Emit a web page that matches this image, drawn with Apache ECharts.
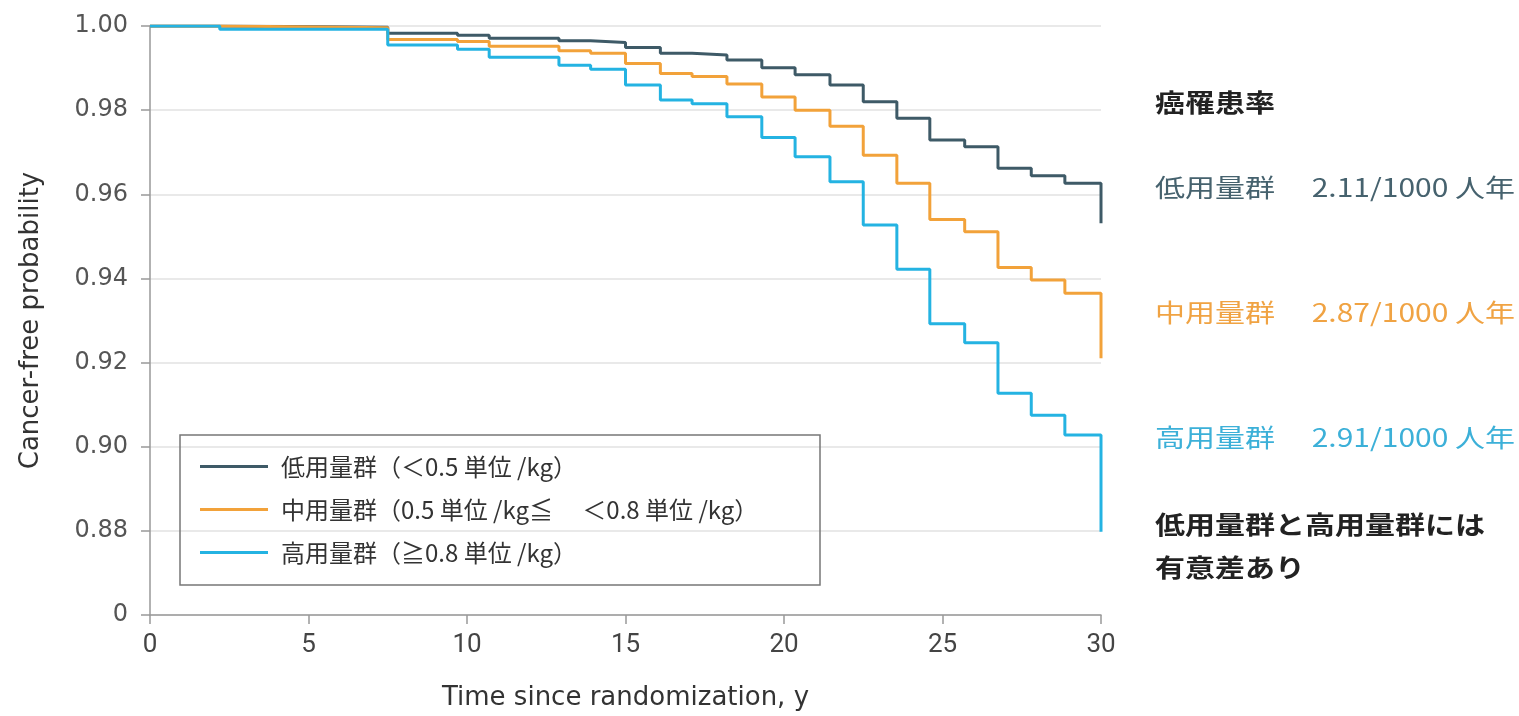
<!DOCTYPE html>
<html>
<head>
    <meta charset="UTF-8">
    <title>Cancer-free probability</title>
    <script src="https://cdn.jsdelivr.net/npm/echarts@6/dist/echarts.min.js"></script>
    <style>
        html, body { margin: 0; padding: 0; background: #fff; }
        #chart { width: 1519px; height: 716px; }
    </style>
</head>
<body>
<div id="chart"></div>
<script type="text/javascript">
    // step times (years) and survival after each step
    var times = [0, 2.2, 7.5, 9.7, 10.7, 12.9, 13.9, 15.0, 16.1, 17.1, 18.2, 19.3, 20.35, 21.45, 22.5, 23.56, 24.6, 25.7, 26.75, 27.8, 28.86, 30];
    var lowDose = [1.0, 0.9997, 0.9983, 0.9978, 0.9971, 0.9965, 0.9961, 0.9949, 0.9935, 0.9931, 0.9919, 0.9901, 0.9884, 0.9860, 0.9820, 0.9781, 0.9729, 0.9713, 0.9662, 0.9644, 0.9626, 0.9531];
    var midDose = [1.0, 0.9996, 0.9968, 0.9963, 0.9952, 0.9941, 0.9935, 0.9911, 0.9887, 0.9880, 0.9862, 0.9831, 0.9800, 0.9762, 0.9693, 0.9626, 0.9540, 0.9511, 0.9426, 0.9396, 0.9365, 0.9210];
    var highDose = [1.0, 0.9992, 0.9955, 0.9945, 0.9926, 0.9907, 0.9897, 0.9860, 0.9824, 0.9815, 0.9784, 0.9735, 0.9689, 0.9630, 0.9527, 0.9422, 0.9292, 0.9247, 0.9127, 0.9075, 0.9028, 0.8798];

    var seriesNames = ['低用量群（＜0.5 単位 /kg）', '中用量群（0.5 単位 /kg≦　 ＜0.8 単位 /kg）', '高用量群（≧0.8 単位 /kg）'];
    var groupNames = ['低用量群', '中用量群', '高用量群'];
    var rates = ['2.11/1000 人年', '2.87/1000 人年', '2.91/1000 人年'];
    var colors = ['#3e5a67', '#f2a23a', '#24b3e2'];
    var textColors = ['#46626e', '#f0a343', '#3cb0d8'];

    var cjk = '"Noto Sans CJK JP", sans-serif';

    function pairs(vals) {
        var out = [];
        for (var i = 0; i < times.length; i++) out.push([times[i], vals[i]]);
        return out;
    }

    var chart = echarts.init(document.getElementById('chart'));
    var allVals = [lowDose, midDose, highDose];
    var series = [];
    for (var k = 0; k < 3; k++) {
        series.push({
            name: seriesNames[k],
            type: 'line',
            step: 'end',
            symbol: 'none',
            data: pairs(allVals[k]),
            lineStyle: { color: colors[k], width: 3 },
            itemStyle: { color: colors[k] }
        });
    }

    // right-hand notes are stretched wide in the original, so scale them a bit
    var graphics = [
        { type: 'rect', shape: { x: 180, y: 435, width: 640, height: 150 },
          style: { fill: 'none', stroke: '#777', lineWidth: 1.5 }, z: 5 },
        { type: 'text', x: 1155, y: 90, scaleX: 1.2, style: { text: '癌罹患率', font: 'bold 25px ' + cjk, fill: '#222' } },
        { type: 'text', x: 1155, y: 512, scaleX: 1.2, style: { text: '低用量群と高用量群には', font: 'bold 25px ' + cjk, fill: '#222' } },
        { type: 'text', x: 1155, y: 555, scaleX: 1.2, style: { text: '有意差あり', font: 'bold 25px ' + cjk, fill: '#222' } }
    ];
    var rateTops = [175, 300, 425];
    for (var j = 0; j < 3; j++) {
        graphics.push({ type: 'text', x: 1155, y: rateTops[j], scaleX: 1.2,
            style: { text: groupNames[j] + '　 ' + rates[j], font: '25px ' + cjk, fill: textColors[j] } });
    }

    option = {
        backgroundColor: '#fff',
        animation: false,
        grid: { left: 150, right: 418, top: 26, bottom: 101 },
        legend: {
            orient: 'vertical',
            left: 200,
            top: 454,
            padding: 0,
            icon: 'rect',
            itemWidth: 68,
            itemHeight: 3,
            itemGap: 18,
            data: seriesNames,
            textStyle: { fontFamily: cjk, fontSize: 24, lineHeight: 25, color: '#333', padding: [0, 0, 0, 8] }
        },
        xAxis: {
            type: 'value',
            min: 0,
            max: 30,
            interval: 5,
            name: 'Time since randomization, y',
            nameLocation: 'middle',
            nameGap: 70,
            nameTextStyle: { fontFamily: '"DejaVu Sans", sans-serif', fontSize: 26, color: '#333' },
            axisLine: { lineStyle: { color: '#999', width: 1.5 } },
            axisTick: { show: true, length: 9, lineStyle: { color: '#999', width: 1.5 } },
            axisLabel: { fontFamily: 'Roboto, sans-serif', fontSize: 26, color: '#444', margin: 17 },
            splitLine: { show: false }
        },
        yAxis: {
            type: 'value',
            min: 0.86,
            max: 1.0,
            interval: 0.02,
            name: 'Cancer-free probability',
            nameLocation: 'middle',
            nameGap: 106,
            nameTextStyle: { fontFamily: '"DejaVu Sans", sans-serif', fontSize: 26, color: '#333' },
            axisLine: { show: true, lineStyle: { color: '#999', width: 1.5 } },
            axisTick: { show: true, length: 9, lineStyle: { color: '#999', width: 1.5 } },
            axisLabel: {
                fontFamily: '"DejaVu Sans", sans-serif', fontSize: 24, color: '#555', margin: 22,
                formatter: function (v) {
                    if (Math.abs(v - 0.86) < 1e-6) return '0';
                    return v.toFixed(2);
                }
            },
            splitLine: { show: true, lineStyle: { color: '#e2e2e2', width: 1.5 } }
        },
        graphic: graphics,
        series: series
    };
    chart.setOption(option);
</script>
</body>
</html>
